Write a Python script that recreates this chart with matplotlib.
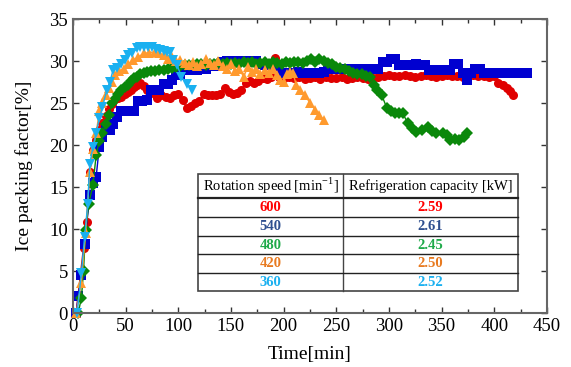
import matplotlib
matplotlib.use("Agg")
import matplotlib.pyplot as plt
from matplotlib.ticker import MultipleLocator

plt.rcParams['font.family'] = ['Liberation Serif', 'DejaVu Serif']
plt.rcParams['mathtext.fontset'] = 'custom'
plt.rcParams['mathtext.rm'] = 'Liberation Serif'

# rotation speed 600 (red circles)
t_600 = [3, 7, 10, 13, 16, 19, 22, 25, 28, 31,
         34, 37, 40, 43, 46, 49, 52, 55, 58, 61,
         64, 67, 70, 73, 76, 80, 84, 88, 92, 96,
         100, 104, 108, 112, 116, 120, 124, 128, 132, 136,
         140, 144, 148, 152, 156, 160, 164, 168, 172, 176,
         180, 184, 188, 192, 196, 200, 205, 210, 215, 220,
         225, 230, 235, 240, 245, 250, 255, 260, 265, 270,
         275, 280, 285, 290, 295, 300, 305, 310, 315, 320,
         325, 330, 335, 340, 345, 350, 355, 360, 365, 370,
         375, 380, 385, 390, 395, 400, 404, 408, 412, 415,
         418]
y_600 = [0, 4.5, 7.8, 10.8, 16.8, 19.4, 20.6, 21.8, 22.6, 23.4,
         24.3, 24.9, 25.5, 25.6, 25.7, 26.1, 26.3, 26.5, 26.9, 27.2,
         27.4, 27.0, 26.6, 26.5, 26.2, 25.6, 25.9, 25.7, 25.6, 26.0,
         26.1, 25.4, 24.4, 24.7, 25.0, 25.2, 26.1, 26.0, 26.0, 25.9,
         26.1, 26.8, 26.3, 26.1, 26.2, 26.6, 27.4, 27.6, 27.4, 27.6,
         28.0, 27.9, 28.1, 30.4, 28.1, 28.0, 28.1, 28.0, 28.1, 27.9,
         28.0, 28.1, 27.9, 28.1, 28.0, 28.0, 28.1, 27.9, 28.0, 28.1,
         28.0, 27.9, 28.0, 28.1, 28.2, 28.3, 28.2, 28.2, 28.3, 28.2,
         28.1, 28.2, 28.3, 28.2, 28.1, 28.2, 28.3, 28.2, 28.2, 28.1,
         28.2, 28.3, 28.2, 28.2, 28.1, 28.2, 27.4, 27.1, 26.8, 26.4,
         26.0]

# rotation speed 540 (blue squares)
t_540 = [3, 5, 8, 11, 16, 19, 22, 25, 28, 31,
         35, 38, 42, 46, 50, 54, 58, 62, 66, 70,
         74, 78, 82, 86, 90, 94, 98, 102, 106, 110,
         114, 118, 122, 126, 130, 134, 138, 142, 146, 150,
         154, 158, 162, 166, 170, 174, 178, 182, 186, 190,
         194, 198, 202, 206, 210, 214, 218, 222, 226, 230,
         234, 238, 242, 246, 250, 254, 258, 262, 266, 270,
         274, 278, 282, 286, 290, 294, 298, 302, 306, 310,
         314, 318, 322, 326, 330, 334, 338, 342, 346, 350,
         354, 358, 362, 366, 370, 374, 378, 382, 386, 390,
         394, 398, 402, 406, 410, 414, 418, 422, 426, 431]
y_540 = [0, 2.0, 4.5, 8.2, 14.0, 15.5, 16.2, 19.8, 21.0, 21.8,
         21.8, 22.5, 23.3, 24.0, 24.0, 24.0, 24.1, 25.3, 25.3, 25.4,
         26.5, 26.5, 26.6, 27.3, 27.3, 27.8, 28.3, 28.3, 28.9, 28.9,
         28.9, 28.9, 29.0, 29.0, 29.4, 29.4, 29.5, 29.9, 30.0, 30.0,
         30.0, 30.0, 30.0, 30.0, 29.9, 30.0, 29.6, 29.5, 29.5, 29.5,
         29.4, 28.6, 28.6, 28.6, 28.6, 28.7, 28.6, 28.6, 28.6, 28.6,
         28.6, 28.7, 29.0, 29.0, 29.0, 29.0, 29.0, 29.0, 29.0, 29.1,
         29.0, 29.0, 29.0, 29.0, 29.1, 29.9, 29.9, 30.3, 30.3, 29.5,
         29.5, 29.5, 29.5, 29.6, 29.5, 29.5, 28.9, 28.9, 28.9, 28.9,
         28.9, 28.9, 29.7, 29.7, 28.6, 27.7, 28.6, 29.1, 29.1, 28.6,
         28.6, 28.6, 28.6, 28.6, 28.6, 28.6, 28.6, 28.6, 28.6, 28.6]

# rotation speed 480 (green diamonds)
t_480 = [5, 8, 10, 12, 15, 19, 22, 25, 28, 31,
         34, 37, 40, 43, 46, 49, 52, 55, 58, 61,
         64, 67, 70, 74, 78, 82, 86, 90, 94, 98,
         102, 106, 110, 114, 118, 122, 126, 130, 134, 138,
         142, 146, 150, 154, 158, 162, 166, 170, 174, 178,
         182, 186, 190, 194, 198, 202, 206, 210, 214, 218,
         222, 226, 230, 234, 238, 242, 246, 250, 254, 258,
         262, 266, 270, 274, 278, 282, 286, 289, 293, 298,
         302, 306, 310, 313, 318, 322, 326, 331, 337, 341,
         345, 351, 355, 358, 363, 367, 371, 374]
y_480 = [0, 1.8, 5.0, 9.9, 13.0, 15.3, 18.8, 20.5, 21.4, 22.5,
         23.6, 25.0, 25.5, 26.1, 26.5, 26.9, 27.1, 27.6, 28.0, 28.1,
         28.4, 28.6, 28.7, 28.8, 28.8, 28.9, 28.9, 29.0, 29.2, 29.3,
         29.4, 29.5, 29.5, 29.5, 29.6, 29.6, 29.5, 29.7, 29.6, 29.8,
         29.7, 29.8, 29.6, 29.8, 29.7, 29.9, 29.8, 29.9, 29.7, 29.8,
         29.9, 29.7, 29.9, 29.8, 29.7, 29.9, 29.8, 29.9, 29.9, 29.8,
         30.0, 30.3, 29.9, 30.3, 30.0, 29.8, 29.6, 29.3, 29.2, 29.0,
         28.8, 28.6, 28.5, 28.4, 28.2, 28.1, 27.1, 26.6, 26.0, 24.4,
         24.0, 23.8, 23.8, 23.8, 22.6, 22.0, 21.5, 21.8, 22.1, 21.7,
         21.4, 21.4, 21.2, 20.6, 20.7, 20.6, 21.0, 21.4]

# rotation speed 420 (orange triangles)
t_420 = [3, 8, 12, 16, 19, 22, 25, 28, 31, 34,
         37, 40, 44, 48, 52, 57, 62, 67, 72, 78,
         82, 86, 90, 94, 98, 102, 106, 110, 114, 118,
         122, 126, 130, 134, 138, 142, 146, 150, 154, 158,
         162, 166, 170, 174, 178, 182, 186, 190, 194, 197,
         200, 203, 206, 209, 212, 216, 220, 225, 230, 234,
         238]
y_420 = [0, 3.6, 9.5, 16.8, 19.5, 21.4, 24.0, 25.0, 26.0, 26.8,
         27.5, 28.3, 28.8, 29.1, 29.6, 30.1, 30.5, 30.9, 31.0, 31.1,
         30.9, 30.7, 30.3, 30.5, 30.0, 30.1, 29.8, 29.5, 29.9, 29.4,
         29.7, 30.2, 29.8, 29.5, 30.0, 29.4, 29.0, 29.6, 28.8, 29.1,
         28.1, 29.3, 28.7, 29.0, 28.4, 28.9, 28.6, 29.1, 28.3, 27.7,
         27.5, 28.5, 28.7, 28.6, 27.1, 26.6, 26.0, 25.0, 24.2, 23.6,
         23.0]

# rotation speed 360 (cyan down triangles)
t_360 = [4, 8, 11, 14, 16, 19, 22, 25, 28, 32,
         35, 38, 42, 46, 49, 52, 56, 61, 64, 67,
         71, 75, 79, 83, 86, 89, 92, 95, 99, 103,
         108, 113]
y_360 = [0, 4.8, 9.0, 13.0, 17.8, 19.8, 21.4, 23.2, 24.5, 26.5,
         27.5, 28.9, 29.2, 29.7, 30.1, 30.7, 31.0, 31.5, 31.7, 31.7,
         31.7, 31.7, 31.4, 31.3, 31.2, 31.1, 31.1, 30.1, 29.5, 28.1,
         27.3, 26.5]

speeds = ['600', '540', '480', '420', '360']
capacity = ['2.59', '2.61', '2.45', '2.50', '2.52']
line_colors = ['#e00000', '#0000d0', '#0a880a', '#ff9a2e', '#1ab0f0']
text_colors = ['#ff0000', '#2e4f8f', '#1faa4a', '#e87a20', '#1ab0f0']
markers = ['o', 's', 'D', '^', 'v']
sizes = [6.5, 6.5, 6.0, 7.2, 7.2]
series = [(t_600, y_600), (t_540, y_540), (t_480, y_480),
          (t_420, y_420), (t_360, y_360)]

fig = plt.figure(figsize=(5.71, 3.67), dpi=100)
ax = fig.add_axes([0.1278, 0.1471, 0.830, 0.801])

for (t, y), c, m, s in zip(series, line_colors, markers, sizes):
    ax.plot(t, y, color=c, marker=m, markersize=s, linewidth=1.0,
            markeredgewidth=0, clip_on=False)

ax.set_xlim(0, 450)
ax.set_ylim(0, 35)
ax.xaxis.set_major_locator(MultipleLocator(50))
ax.xaxis.set_minor_locator(MultipleLocator(25))
ax.yaxis.set_major_locator(MultipleLocator(5))
ax.tick_params(which='both', direction='in', top=True, right=True,
               labelsize=13.5, color='#333333')
ax.tick_params(which='major', length=4, width=1)
ax.tick_params(which='minor', length=3, width=1)
for sp in ax.spines.values():
    sp.set_color('#666666')
    sp.set_linewidth(1.5)

ax.set_xlabel('Time[min]', fontsize=14, labelpad=8)
ax.set_ylabel('Ice packing factor[%]', fontsize=14, labelpad=12)

# table drawn in axes fraction
x0, xs, x1 = 0.2637, 0.5696, 0.9388
rows_y = [0.4728, 0.3912, 0.3265, 0.2619, 0.2007, 0.1361, 0.0748]
tr = ax.transAxes
ax.add_patch(plt.Rectangle((x0, rows_y[-1]), x1 - x0, rows_y[0] - rows_y[-1],
                           transform=tr, facecolor='white', edgecolor='#444444',
                           linewidth=1.2, zorder=5))
ax.plot([xs, xs], [rows_y[-1], rows_y[0]], transform=tr, color='#444444',
        linewidth=1.0, zorder=6)
for i, yy in enumerate(rows_y[1:-1]):
    ax.plot([x0, x1], [yy, yy], transform=tr, color='#222222',
            linewidth=1.6 if i == 0 else 1.0, zorder=6)

ax.text((x0 + xs) / 2, (rows_y[0] + rows_y[1]) / 2,
        r'Rotation speed [min$^{\mathregular{-1}}$]', transform=tr,
        ha='center', va='center', fontsize=10.5, zorder=7)
ax.text((xs + x1) / 2, (rows_y[0] + rows_y[1]) / 2,
        'Refrigeration capacity [kW]', transform=tr,
        ha='center', va='center', fontsize=10.5, zorder=7)
for i in range(5):
    yc = (rows_y[i + 1] + rows_y[i + 2]) / 2
    ax.text((x0 + xs) / 2, yc, speeds[i], transform=tr, ha='center',
            va='center', fontsize=10.5, fontweight='bold',
            color=text_colors[i], zorder=7)
    ax.text((xs + x1) / 2, yc, capacity[i], transform=tr, ha='center',
            va='center', fontsize=10.5, fontweight='bold',
            color=text_colors[i], zorder=7)

fig.savefig('out.png', dpi=100)
